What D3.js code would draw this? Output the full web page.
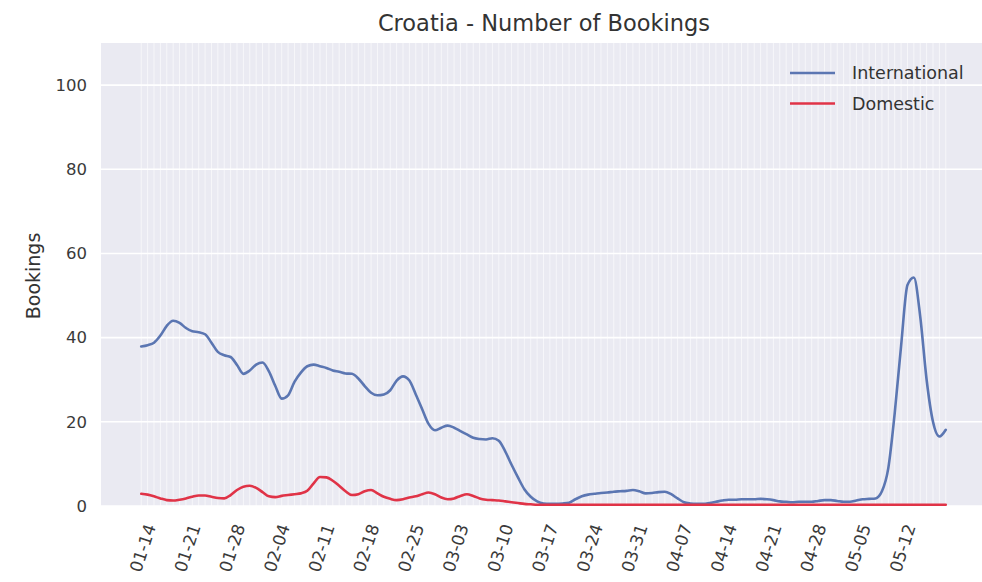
<!DOCTYPE html>
<html>
<head>
<meta charset="utf-8">
<script src="https://cdn.jsdelivr.net/npm/d3@7"></script>
<style>
  html, body { margin: 0; padding: 0; background: #ffffff; }
  svg { display: block; font-family: "DejaVu Sans", sans-serif; }
</style>
</head>
<body>
<svg id="chart" width="982" height="582"></svg>
<script>
// ---------------- DATA ----------------
const chartTitle = "Croatia - Number of Bookings";
const yLabel = "Bookings";
const seriesNames = ["International", "Domestic"];
const startDate = "2020-01-14";   // first daily category
const tickLabels = ["01-14","01-21","01-28","02-04","02-11","02-18","02-25","03-03","03-10",
                    "03-17","03-24","03-31","04-07","04-14","04-21","04-28","05-05","05-12"];
const yTicks = [0, 20, 40, 60, 80, 100];

const international = [
  37.9, 38.2, 38.8, 40.5, 42.8, 44.0, 43.5, 42.3, 41.5, 41.3,
  40.8, 38.8, 36.6, 35.8, 35.4, 33.5, 31.4, 32.2, 33.6, 34.1,
  32.0, 28.5, 25.5, 26.3, 29.5, 31.7, 33.2, 33.6, 33.2, 32.8,
  32.2, 31.9, 31.5, 31.4, 30.3, 28.5, 26.9, 26.3, 26.5, 27.5,
  29.8, 30.8, 29.8, 26.5, 23.0, 19.5, 18.0, 18.6, 19.1, 18.6,
  17.8, 17.0, 16.2, 15.9, 15.8, 16.1, 15.5, 13.0, 9.8, 6.8,
  4.0, 2.2, 1.1, 0.6, 0.5, 0.5, 0.6, 0.8, 1.6, 2.3,
  2.7, 2.9, 3.1, 3.2, 3.4, 3.5, 3.6, 3.8, 3.5, 3.0,
  3.1, 3.3, 3.4, 2.8, 1.8, 0.9, 0.6, 0.5, 0.5, 0.7,
  1.0, 1.3, 1.5, 1.5, 1.6, 1.6, 1.6, 1.7, 1.6, 1.4,
  1.1, 1.0, 0.9, 1.0, 1.0, 1.0, 1.2, 1.4, 1.4, 1.2,
  1.0, 1.0, 1.3, 1.6, 1.7, 1.8, 3.5, 9.0, 22.0, 38.0,
  52.5, 54.3, 45.0, 30.0, 20.0, 16.5, 18.1
];
const domestic = [
  2.9, 2.7, 2.3, 1.8, 1.4, 1.3, 1.5, 1.8, 2.2, 2.5,
  2.5, 2.2, 1.9, 1.8, 2.6, 3.8, 4.6, 4.8, 4.3, 3.3,
  2.3, 2.1, 2.4, 2.6, 2.8, 3.0, 3.6, 5.4, 6.9, 6.8,
  6.0, 4.8, 3.5, 2.6, 2.8, 3.5, 3.8, 3.0, 2.2, 1.7,
  1.4, 1.6, 2.0, 2.3, 2.8, 3.2, 2.8, 2.0, 1.6, 1.8,
  2.4, 2.8, 2.4, 1.8, 1.5, 1.4, 1.3, 1.1, 0.9, 0.7,
  0.5, 0.4, 0.3, 0.3, 0.3, 0.3, 0.3, 0.3, 0.3, 0.3,
  0.3, 0.3, 0.3, 0.3, 0.3, 0.3, 0.3, 0.3, 0.3, 0.3,
  0.3, 0.3, 0.3, 0.3, 0.3, 0.3, 0.3, 0.3, 0.3, 0.3,
  0.3, 0.3, 0.3, 0.3, 0.3, 0.3, 0.3, 0.3, 0.3, 0.3,
  0.3, 0.3, 0.3, 0.3, 0.3, 0.3, 0.3, 0.3, 0.3, 0.3,
  0.3, 0.3, 0.3, 0.3, 0.3, 0.3, 0.3, 0.3, 0.3, 0.3,
  0.3, 0.3, 0.3, 0.3, 0.3, 0.3, 0.3
];
const seriesColors = ["#5b76b2", "#e03347"];

// ---------------- LAYOUT ----------------
const W = 982, H = 582;
const plot = { left: 101, top: 43, right: 986, bottom: 506 };

const parse = d3.timeParse("%Y-%m-%d");
const d0 = parse(startDate);
const dates = international.map((_, i) => d3.timeDay.offset(d0, i));
const dEnd = dates[dates.length - 1];
const span = (dEnd - d0);
const x = d3.scaleTime()
  .domain([new Date(+d0 - span * 0.05), new Date(+dEnd + span * 0.05)])
  .range([plot.left, plot.right]);
const y = d3.scaleLinear().domain([0, 110]).range([plot.bottom, plot.top]);

const svg = d3.select("#chart");
svg.append("rect").attr("width", W).attr("height", H).attr("fill", "#ffffff");

svg.append("rect")
  .attr("x", plot.left).attr("y", plot.top)
  .attr("width", plot.right - plot.left).attr("height", plot.bottom - plot.top)
  .attr("fill", "#eaeaf2");

// daily vertical grid
svg.append("g").selectAll("line").data(dates).join("line")
  .attr("x1", d => x(d)).attr("x2", d => x(d))
  .attr("y1", plot.top).attr("y2", plot.bottom)
  .attr("stroke", "#ffffff").attr("stroke-width", 0.9).attr("stroke-opacity", 0.65);

// horizontal grid
svg.append("g").selectAll("line").data(yTicks).join("line")
  .attr("x1", plot.left).attr("x2", plot.right)
  .attr("y1", d => y(d)).attr("y2", d => y(d))
  .attr("stroke", "#ffffff").attr("stroke-width", 1.6);

// y axis
const yAxis = d3.axisLeft(y).tickValues(yTicks).tickSize(0).tickPadding(14);
const gy = svg.append("g").attr("transform", `translate(${plot.left},0)`).call(yAxis);
gy.select(".domain").remove();
gy.selectAll("text").attr("font-size", 16.5).attr("fill", "#3a3a3a")
  .attr("font-family", "DejaVu Sans");

// x axis ticks (weekly)
const fmt = d3.timeFormat("%m-%d");
const tickDates = tickLabels.map(l => dates.find(d => fmt(d) === l));
const xAxis = d3.axisBottom(x).tickValues(tickDates).tickSize(0).tickFormat(fmt);
const gx = svg.append("g").attr("transform", `translate(0,${plot.bottom})`).call(xAxis);
gx.select(".domain").remove();
gx.selectAll(".tick text")
  .attr("font-size", 17).attr("fill", "#3a3a3a").attr("font-family", "DejaVu Sans")
  .attr("text-anchor", "middle").attr("dominant-baseline", "central")
  .attr("y", 0).attr("dy", null)
  .attr("transform", "translate(1,42) rotate(-72)");

// lines
const line = d3.line().x((d, i) => x(dates[i])).y(d => y(d)).curve(d3.curveMonotoneX);
[international, domestic].forEach((s, k) => {
  svg.append("path").datum(s)
    .attr("d", line)
    .attr("fill", "none")
    .attr("stroke", seriesColors[k])
    .attr("stroke-width", 2.6)
    .attr("stroke-linejoin", "round")
    .attr("stroke-linecap", "round");
});

// title
svg.append("text").text(chartTitle)
  .attr("x", 544).attr("y", 23)
  .attr("text-anchor", "middle").attr("dominant-baseline", "central")
  .attr("font-size", 22.5).attr("fill", "#333");

// y label
svg.append("text").text(yLabel)
  .attr("transform", `translate(33,276) rotate(-90)`)
  .attr("text-anchor", "middle").attr("dominant-baseline", "central")
  .attr("font-size", 19).attr("fill", "#333");

// legend
const leg = svg.append("g");
seriesNames.forEach((name, k) => {
  const ly = 73 + k * 30.5;
  leg.append("line").attr("x1", 790).attr("x2", 835).attr("y1", ly).attr("y2", ly)
    .attr("stroke", seriesColors[k]).attr("stroke-width", 2.6);
  leg.append("text").text(name).attr("x", 852).attr("y", ly)
    .attr("dominant-baseline", "central").attr("font-size", 17.5).attr("fill", "#333");
});
</script>
</body>
</html>
